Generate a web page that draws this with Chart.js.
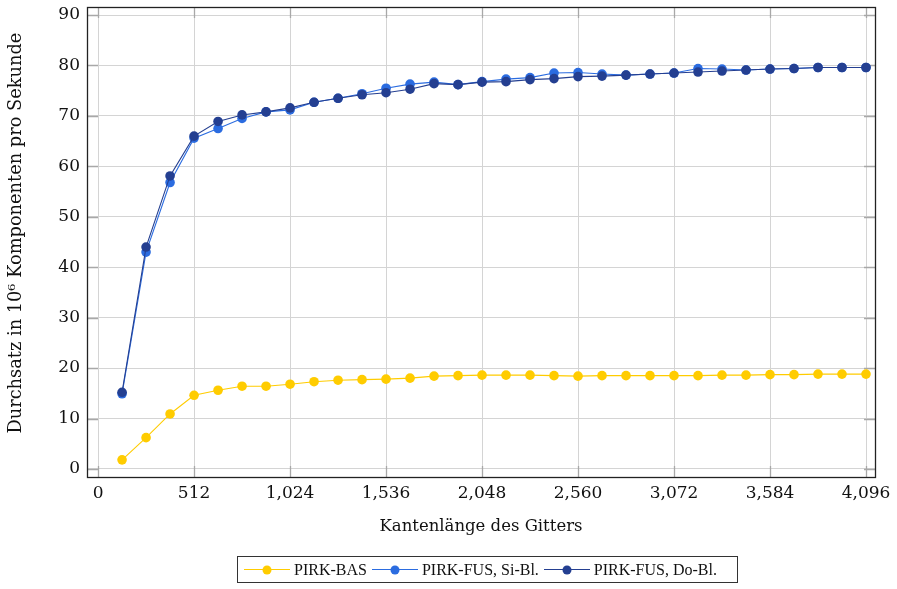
<!DOCTYPE html>
<html>
<head>
<meta charset="utf-8">
<script src="https://cdn.jsdelivr.net/npm/chart.js@4/dist/chart.umd.min.js"></script>
<style>
  html, body { margin: 0; padding: 0; background: #fff; }
  #wrap { position: relative; width: 897px; height: 589px; }
  #legend {
    position: absolute; left: 237px; top: 556px; width: 501px; height: 27px;
    border: 1px solid #333; box-sizing: border-box; padding-left: 6px;
    display: flex; align-items: center; justify-content: flex-start;
    font-family: "Liberation Serif", serif; font-size: 16px; color: #111;
  }
  .item { display: flex; align-items: center; margin-right: 5px; }
  .sw { position: relative; display: inline-block; width: 46px; height: 1px; margin-right: 4px; }
  .sw::after {
    content: ''; position: absolute; left: 50%; top: 50%; width: 9px; height: 9px;
    border-radius: 50%; background: inherit; transform: translate(-50%, -50%);
  }
</style>
</head>
<body>
<div id="wrap">
  <canvas id="chart" width="897" height="589"></canvas>
  <div id="legend"></div>
</div>
<script>
const gridSizes = [128, 256, 384, 512, 640, 768, 896, 1024, 1152, 1280, 1408, 1536, 1664, 1792, 1920, 2048,
                   2176, 2304, 2432, 2560, 2688, 2816, 2944, 3072, 3200, 3328, 3456, 3584, 3712, 3840, 3968, 4096]
const pirkBas = [1.8, 6.2, 10.9, 14.6, 15.6, 16.4, 16.4, 16.8, 17.3, 17.6, 17.7, 17.8, 18.0, 18.4, 18.5, 18.6,
                 18.6, 18.6, 18.5, 18.4, 18.5, 18.5, 18.5, 18.5, 18.5, 18.6, 18.6, 18.7, 18.7, 18.8, 18.8, 18.8]
const pirkFusSi = [14.9, 43.0, 56.8, 65.6, 67.5, 69.5, 70.8, 71.2, 72.7, 73.5, 74.4, 75.5, 76.3, 76.7, 76.2, 76.8,
                   77.3, 77.6, 78.5, 78.6, 78.3, 78.1, 78.3, 78.5, 79.4, 79.3, 79.1, 79.3, 79.4, 79.6, 79.6, 79.6]
const pirkFusDo = [15.2, 44.0, 58.1, 66.0, 68.9, 70.2, 70.8, 71.6, 72.7, 73.5, 74.2, 74.6, 75.3, 76.4, 76.2, 76.7,
                   76.8, 77.2, 77.4, 77.8, 77.9, 78.1, 78.3, 78.5, 78.7, 78.9, 79.1, 79.3, 79.4, 79.6, 79.6, 79.6]
const seriesNames = ["PIRK-BAS", "PIRK-FUS, Si-Bl.", "PIRK-FUS, Do-Bl."]
const seriesColors = ["#ffcc00", "#2b6ce0", "#243f91"]
const xTicks = [0, 512, 1024, 1536, 2048, 2560, 3072, 3584, 4096]
const yTicks = [0, 10, 20, 30, 40, 50, 60, 70, 80, 90]

const serif = "'DejaVu Serif', serif"

// pgfplots style frame with inner tick marks
const frame = {
    id: 'frame',
    beforeDatasetsDraw(chart) {
        const ctx = chart.ctx
        const a = chart.chartArea
        const xs = chart.scales.x
        const ys = chart.scales.y
        const len = 11
        ctx.save()
        ctx.strokeStyle = "#a8a8a8"
        ctx.lineWidth = 1.3
        ctx.beginPath()
        xTicks.forEach(v => {
            const px = Math.round(xs.getPixelForValue(v)) + 0.5
            ctx.moveTo(px, a.bottom); ctx.lineTo(px, a.bottom - len)
            ctx.moveTo(px, a.top); ctx.lineTo(px, a.top + len)
        })
        yTicks.forEach(v => {
            const py = Math.round(ys.getPixelForValue(v)) + 0.5
            ctx.moveTo(a.left, py); ctx.lineTo(a.left + len, py)
            ctx.moveTo(a.right, py); ctx.lineTo(a.right - len, py)
        })
        ctx.stroke()
        ctx.restore()
    },
    afterDraw(chart) {
        const ctx = chart.ctx
        const a = chart.chartArea
        ctx.save()
        ctx.strokeStyle = "#222"
        ctx.lineWidth = 1.3
        ctx.strokeRect(Math.round(a.left) + 0.5, Math.round(a.top) + 0.5,
                       Math.round(a.right - a.left), Math.round(a.bottom - a.top))
        ctx.restore()
    }
}

const allSeries = [pirkBas, pirkFusSi, pirkFusDo]
const datasets = allSeries.map((vals, i) => ({
    label: seriesNames[i],
    data: gridSizes.map((x, j) => ({ x: x, y: vals[j] })),
    borderColor: seriesColors[i],
    backgroundColor: seriesColors[i],
    borderWidth: 1.1,
    pointRadius: 4.8,
    pointHoverRadius: 4.8,
    pointBorderWidth: 0,
    order: 2 - i,
    clip: false
}))

const ctx = document.getElementById("chart").getContext('2d')
const chart = new Chart(ctx, {
    type: "line",
    data: { datasets: datasets },
    options: {
        responsive: false,
        animation: false,
        layout: { padding: { top: 7, right: 22, bottom: 52, left: 0 } },
        plugins: {
            legend: { display: false },
            tooltip: { enabled: false }
        },
        scales: {
            x: {
                type: 'linear',
                min: -59,
                max: 4144,
                afterBuildTicks: s => { s.ticks = xTicks.map(v => ({ value: v })) },
                afterFit: s => { s.height = 60; s.paddingLeft = 0; s.paddingRight = 0 },
                grid: { color: "#d4d4d4", drawTicks: false },
                border: { display: false },
                ticks: { color: "#111", font: { family: serif, size: 17 }, padding: 6, maxRotation: 0 },
                title: {
                    display: true,
                    text: "Kantenlänge des Gitters",
                    color: "#111",
                    font: { family: serif, size: 16.5 },
                    padding: { top: 0, bottom: 0 }
                }
            },
            y: {
                min: -1.6,
                max: 91.6,
                afterBuildTicks: s => { s.ticks = yTicks.map(v => ({ value: v })) },
                afterFit: s => { s.width = 87; s.paddingTop = 0; s.paddingBottom = 0 },
                grid: { color: "#d4d4d4", drawTicks: false },
                border: { display: false },
                ticks: { color: "#111", font: { family: serif, size: 17 }, padding: 7 },
                title: {
                    display: true,
                    // leading en spaces nudge the rotated label upward like the original
                    text: "\u2002\u2002Durchsatz in 10⁶ Komponenten pro Sekunde",
                    color: "#111",
                    font: { family: serif, size: 17.8 },
                    padding: { top: 6, bottom: 0 }
                }
            }
        }
    },
    plugins: [frame]
})

// legend below the chart
const legend = document.getElementById("legend")
seriesNames.forEach((name, i) => {
    const item = document.createElement("span")
    item.className = "item"
    const sw = document.createElement("span")
    sw.className = "sw"
    sw.style.background = seriesColors[i]
    const txt = document.createElement("span")
    txt.textContent = name
    item.appendChild(sw)
    item.appendChild(txt)
    legend.appendChild(item)
})
</script>
</body>
</html>
